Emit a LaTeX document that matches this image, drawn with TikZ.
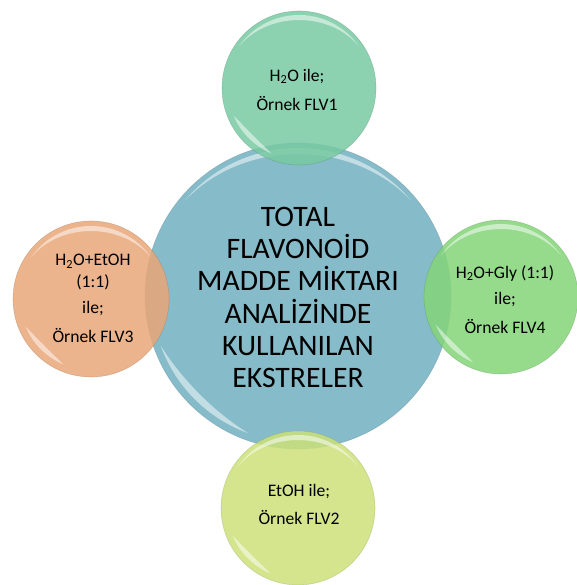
\documentclass[tikz,border=0pt]{standalone}
\usepackage{fontspec}
\setmainfont{Carlito}
\newcommand{\glossarc}[5]{% center node, R, rotation, half-span, thickness
  \begin{scope}[shift={(#1.center)}, rotate=#3]
    \pgfmathsetmacro{\glossA}{#2-#5/(1-cos(#4))}
    \fill[white, opacity=0.5] ({90+#4}:#2) arc[start angle={90+#4}, end angle={90-#4}, radius=#2]
      arc[start angle={90-#4}, end angle={90+#4}, x radius=#2, y radius=\glossA] -- cycle;
  \end{scope}}
\begin{document}
\begin{tikzpicture}[x=1pt,y=1pt,
  bubble/.style={circle, inner sep=0pt, draw=#1!70!black, draw opacity=0.35, line width=0.6pt, fill=#1},
  small/.style={font=\fontsize{17.6}{22}\selectfont, align=center, text=black},
  big/.style={font=\fontsize{29.7}{32.3}\selectfont, align=center, text=black}]
\definecolor{cmain}{RGB}{134,187,201}
\definecolor{ctop}{RGB}{120,202,162}
\definecolor{cleft}{RGB}{233,167,120}
\definecolor{cright}{RGB}{132,212,120}
\definecolor{cbottom}{RGB}{204,225,122}
\useasboundingbox (0,0) rectangle (576,585);

% central bubble
\node[bubble=cmain, minimum size=306pt] (main) at (298,289) {};
\glossarc{main}{148}{0}{50}{6}
\glossarc{main}{146}{135}{25}{7}
\node[big] (maintext) at (298,287.5) {TOTAL\\FLAVONOİD\\MADDE MİKTARI\\ANALİZİNDE\\KULLANILAN\\EKSTRELER};

% satellite bubbles
\node[bubble=ctop, fill opacity=0.85, minimum size=154pt] (top) at (299,497) {};
\node[bubble=cleft, fill opacity=0.85, minimum size=156pt] (left) at (91,286) {};
\node[bubble=cright, fill opacity=0.85, minimum size=154pt] (right) at (501,288) {};
\node[bubble=cbottom, fill opacity=0.85, minimum size=154pt] (bottom) at (298,77) {};

\foreach \n in {top,left,right,bottom}{
  \glossarc{\n}{73}{0}{55}{5}
  \glossarc{\n}{71}{135}{22}{5}
}

\node[small] (toptext) at (297,495.5) {H\textsubscript{2}O ile;\\[7pt]Örnek FLV1};
\node[small] (lefttext) at (93,286.5) {H\textsubscript{2}O+EtOH\\(1:1)\\[4pt]ile;\\[7pt]Örnek FLV3};
\node[small] (righttext) at (505,285.5) {H\textsubscript{2}O+Gly (1:1)\\[4pt]ile;\\[7pt]Örnek FLV4};
\node[small] (bottomtext) at (299,81) {EtOH ile;\\[6pt]Örnek FLV2};
\end{tikzpicture}
\end{document}
